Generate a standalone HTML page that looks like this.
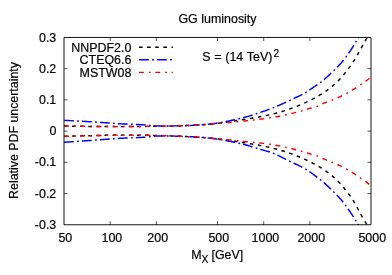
<!DOCTYPE html>
<html><head><meta charset="utf-8"><title>GG luminosity</title>
<style>html,body{margin:0;padding:0;background:#fff;}body{width:392px;height:275px;overflow:hidden;font-family:"Liberation Sans",sans-serif;}</style></head>
<body>
<svg width="392" height="275" viewBox="0 0 392 275" style="display:block;will-change:transform;font-family:'Liberation Sans',sans-serif;font-size:12.45px" stroke-linejoin="round">
<rect width="392" height="275" fill="#fff"/>
<style>text{stroke:#000;stroke-width:0.18px;fill:#000}</style>
<defs><clipPath id="c"><rect x="64.0" y="37.45" width="307.0" height="187.3"/></clipPath></defs>
<g clip-path="url(#c)">
<path d="M64.0,126.00 L65.0,126.02 L66.0,126.04 L67.0,126.07 L68.0,126.09 L69.0,126.11 L70.0,126.13 L71.0,126.15 L72.0,126.17 L73.0,126.19 L74.0,126.20 L75.0,126.22 L76.0,126.24 L77.0,126.26 L78.0,126.27 L79.0,126.29 L80.0,126.31 L81.0,126.32 L82.0,126.34 L83.0,126.35 L84.0,126.36 L85.0,126.38 L86.0,126.39 L87.0,126.40 L88.0,126.41 L89.0,126.43 L90.0,126.44 L91.0,126.45 L92.0,126.46 L93.0,126.47 L94.0,126.48 L95.0,126.49 L96.0,126.50 L97.0,126.51 L98.0,126.51 L99.0,126.52 L100.0,126.53 L101.0,126.54 L102.0,126.54 L103.0,126.55 L104.0,126.56 L105.0,126.56 L106.0,126.57 L107.0,126.57 L108.0,126.58 L109.0,126.58 L110.0,126.58 L111.0,126.59 L112.0,126.59 L113.0,126.59 L114.0,126.59 L115.0,126.60 L116.0,126.60 L117.0,126.60 L118.0,126.60 L119.0,126.60 L120.0,126.60 L121.0,126.60 L122.0,126.60 L123.0,126.60 L124.0,126.59 L125.0,126.59 L126.0,126.59 L127.0,126.58 L128.0,126.58 L129.0,126.57 L130.0,126.57 L131.0,126.56 L132.0,126.55 L133.0,126.54 L134.0,126.54 L135.0,126.53 L136.0,126.52 L137.0,126.51 L138.0,126.50 L139.0,126.49 L140.0,126.47 L141.0,126.46 L142.0,126.45 L143.0,126.44 L144.0,126.42 L145.0,126.41 L146.0,126.40 L147.0,126.38 L148.0,126.37 L149.0,126.36 L150.0,126.34 L151.0,126.33 L152.0,126.31 L153.0,126.30 L154.0,126.28 L155.0,126.26 L156.0,126.25 L157.0,126.23 L158.0,126.22 L159.0,126.20 L160.0,126.18 L161.0,126.17 L162.0,126.15 L163.0,126.13 L164.0,126.12 L165.0,126.10 L166.0,126.08 L167.0,126.06 L168.0,126.05 L169.0,126.03 L170.0,126.01 L171.0,125.99 L172.0,125.96 L173.0,125.94 L174.0,125.92 L175.0,125.89 L176.0,125.87 L177.0,125.84 L178.0,125.81 L179.0,125.78 L180.0,125.75 L181.0,125.72 L182.0,125.69 L183.0,125.66 L184.0,125.63 L185.0,125.59 L186.0,125.56 L187.0,125.52 L188.0,125.49 L189.0,125.45 L190.0,125.41 L191.0,125.37 L192.0,125.33 L193.0,125.29 L194.0,125.24 L195.0,125.20 L196.0,125.15 L197.0,125.10 L198.0,125.04 L199.0,124.98 L200.0,124.92 L201.0,124.85 L202.0,124.78 L203.0,124.70 L204.0,124.62 L205.0,124.54 L206.0,124.46 L207.0,124.37 L208.0,124.28 L209.0,124.19 L210.0,124.10 L211.0,124.01 L212.0,123.91 L213.0,123.81 L214.0,123.70 L215.0,123.59 L216.0,123.48 L217.0,123.36 L218.0,123.24 L219.0,123.12 L220.0,123.00 L221.0,122.87 L222.0,122.74 L223.0,122.60 L224.0,122.47 L225.0,122.33 L226.0,122.19 L227.0,122.05 L228.0,121.91 L229.0,121.76 L230.0,121.61 L231.0,121.47 L232.0,121.32 L233.0,121.17 L234.0,121.02 L235.0,120.86 L236.0,120.71 L237.0,120.56 L238.0,120.41 L239.0,120.25 L240.0,120.10 L241.0,119.95 L242.0,119.79 L243.0,119.64 L244.0,119.48 L245.0,119.32 L246.0,119.16 L247.0,119.00 L248.0,118.84 L249.0,118.68 L250.0,118.51 L251.0,118.34 L252.0,118.18 L253.0,118.00 L254.0,117.83 L255.0,117.66 L256.0,117.48 L257.0,117.30 L258.0,117.12 L259.0,116.93 L260.0,116.74 L261.0,116.55 L262.0,116.36 L263.0,116.16 L264.0,115.97 L265.0,115.76 L266.0,115.56 L267.0,115.35 L268.0,115.14 L269.0,114.92 L270.0,114.70 L271.0,114.47 L272.0,114.24 L273.0,114.00 L274.0,113.75 L275.0,113.49 L276.0,113.22 L277.0,112.95 L278.0,112.67 L279.0,112.39 L280.0,112.10 L281.0,111.81 L282.0,111.51 L283.0,111.20 L284.0,110.89 L285.0,110.57 L286.0,110.25 L287.0,109.91 L288.0,109.57 L289.0,109.23 L290.0,108.88 L291.0,108.52 L292.0,108.15 L293.0,107.78 L294.0,107.40 L295.0,107.02 L296.0,106.63 L297.0,106.24 L298.0,105.84 L299.0,105.43 L300.0,105.02 L301.0,104.60 L302.0,104.17 L303.0,103.74 L304.0,103.29 L305.0,102.84 L306.0,102.38 L307.0,101.92 L308.0,101.44 L309.0,100.95 L310.0,100.46 L311.0,99.96 L312.0,99.45 L313.0,98.92 L314.0,98.39 L315.0,97.85 L316.0,97.31 L317.0,96.75 L318.0,96.17 L319.0,95.59 L320.0,94.99 L321.0,94.38 L322.0,93.76 L323.0,93.12 L324.0,92.46 L325.0,91.79 L326.0,91.09 L327.0,90.38 L328.0,89.65 L329.0,88.90 L330.0,88.12 L331.0,87.32 L332.0,86.50 L333.0,85.65 L334.0,84.78 L335.0,83.88 L336.0,82.95 L337.0,82.00 L338.0,81.03 L339.0,80.03 L340.0,79.00 L341.0,77.92 L342.0,76.76 L343.0,75.54 L344.0,74.29 L345.0,73.02 L346.0,71.74 L347.0,70.47 L348.0,69.20 L349.0,67.92 L350.0,66.60 L351.0,65.22 L352.0,63.76 L353.0,62.22 L354.0,60.62 L355.0,58.97 L356.0,57.27 L357.0,55.53 L358.0,53.77 L359.0,51.98 L360.0,50.18 L361.0,48.39 L362.0,46.60 L363.0,44.82 L364.0,43.07 L365.0,41.35 L366.0,39.64 L367.0,37.86 L368.0,36.01 L369.0,34.10 L370.0,32.13 L371.0,30.10" fill="none" stroke="#000" stroke-width="1.45" stroke-dasharray="3.6,4.5" stroke-dashoffset="0"/>
<path d="M64.0,136.30 L65.0,136.28 L66.0,136.25 L67.0,136.23 L68.0,136.20 L69.0,136.18 L70.0,136.15 L71.0,136.13 L72.0,136.11 L73.0,136.08 L74.0,136.06 L75.0,136.04 L76.0,136.01 L77.0,135.99 L78.0,135.97 L79.0,135.94 L80.0,135.92 L81.0,135.90 L82.0,135.88 L83.0,135.85 L84.0,135.83 L85.0,135.81 L86.0,135.79 L87.0,135.77 L88.0,135.74 L89.0,135.72 L90.0,135.70 L91.0,135.68 L92.0,135.65 L93.0,135.63 L94.0,135.61 L95.0,135.58 L96.0,135.56 L97.0,135.53 L98.0,135.50 L99.0,135.48 L100.0,135.45 L101.0,135.42 L102.0,135.40 L103.0,135.37 L104.0,135.34 L105.0,135.32 L106.0,135.30 L107.0,135.27 L108.0,135.25 L109.0,135.23 L110.0,135.21 L111.0,135.19 L112.0,135.17 L113.0,135.16 L114.0,135.14 L115.0,135.13 L116.0,135.12 L117.0,135.11 L118.0,135.10 L119.0,135.10 L120.0,135.10 L121.0,135.10 L122.0,135.10 L123.0,135.10 L124.0,135.10 L125.0,135.11 L126.0,135.11 L127.0,135.11 L128.0,135.12 L129.0,135.12 L130.0,135.13 L131.0,135.13 L132.0,135.14 L133.0,135.14 L134.0,135.15 L135.0,135.16 L136.0,135.16 L137.0,135.17 L138.0,135.18 L139.0,135.19 L140.0,135.20 L141.0,135.21 L142.0,135.22 L143.0,135.23 L144.0,135.24 L145.0,135.25 L146.0,135.26 L147.0,135.27 L148.0,135.28 L149.0,135.29 L150.0,135.30 L151.0,135.31 L152.0,135.33 L153.0,135.35 L154.0,135.37 L155.0,135.39 L156.0,135.42 L157.0,135.45 L158.0,135.48 L159.0,135.51 L160.0,135.54 L161.0,135.57 L162.0,135.60 L163.0,135.64 L164.0,135.67 L165.0,135.70 L166.0,135.73 L167.0,135.77 L168.0,135.80 L169.0,135.84 L170.0,135.88 L171.0,135.92 L172.0,135.96 L173.0,136.00 L174.0,136.04 L175.0,136.08 L176.0,136.13 L177.0,136.17 L178.0,136.21 L179.0,136.26 L180.0,136.30 L181.0,136.34 L182.0,136.39 L183.0,136.43 L184.0,136.47 L185.0,136.51 L186.0,136.56 L187.0,136.60 L188.0,136.65 L189.0,136.69 L190.0,136.74 L191.0,136.79 L192.0,136.84 L193.0,136.89 L194.0,136.94 L195.0,137.00 L196.0,137.06 L197.0,137.12 L198.0,137.18 L199.0,137.24 L200.0,137.31 L201.0,137.38 L202.0,137.45 L203.0,137.52 L204.0,137.60 L205.0,137.67 L206.0,137.75 L207.0,137.84 L208.0,137.92 L209.0,138.01 L210.0,138.10 L211.0,138.19 L212.0,138.29 L213.0,138.39 L214.0,138.50 L215.0,138.61 L216.0,138.72 L217.0,138.84 L218.0,138.96 L219.0,139.08 L220.0,139.20 L221.0,139.33 L222.0,139.46 L223.0,139.60 L224.0,139.73 L225.0,139.87 L226.0,140.01 L227.0,140.15 L228.0,140.29 L229.0,140.44 L230.0,140.59 L231.0,140.73 L232.0,140.88 L233.0,141.03 L234.0,141.18 L235.0,141.34 L236.0,141.49 L237.0,141.64 L238.0,141.79 L239.0,141.95 L240.0,142.10 L241.0,142.25 L242.0,142.41 L243.0,142.56 L244.0,142.72 L245.0,142.88 L246.0,143.04 L247.0,143.20 L248.0,143.36 L249.0,143.52 L250.0,143.69 L251.0,143.86 L252.0,144.02 L253.0,144.20 L254.0,144.37 L255.0,144.54 L256.0,144.72 L257.0,144.90 L258.0,145.08 L259.0,145.27 L260.0,145.46 L261.0,145.65 L262.0,145.84 L263.0,146.04 L264.0,146.23 L265.0,146.44 L266.0,146.64 L267.0,146.85 L268.0,147.06 L269.0,147.28 L270.0,147.50 L271.0,147.73 L272.0,147.96 L273.0,148.20 L274.0,148.45 L275.0,148.71 L276.0,148.98 L277.0,149.25 L278.0,149.53 L279.0,149.81 L280.0,150.10 L281.0,150.39 L282.0,150.69 L283.0,151.00 L284.0,151.31 L285.0,151.63 L286.0,151.95 L287.0,152.29 L288.0,152.63 L289.0,152.97 L290.0,153.32 L291.0,153.68 L292.0,154.05 L293.0,154.42 L294.0,154.80 L295.0,155.18 L296.0,155.57 L297.0,155.96 L298.0,156.36 L299.0,156.77 L300.0,157.18 L301.0,157.60 L302.0,158.03 L303.0,158.46 L304.0,158.91 L305.0,159.36 L306.0,159.82 L307.0,160.28 L308.0,160.76 L309.0,161.25 L310.0,161.74 L311.0,162.24 L312.0,162.75 L313.0,163.28 L314.0,163.81 L315.0,164.35 L316.0,164.89 L317.0,165.45 L318.0,166.02 L319.0,166.61 L320.0,167.20 L321.0,167.81 L322.0,168.44 L323.0,169.08 L324.0,169.73 L325.0,170.41 L326.0,171.10 L327.0,171.81 L328.0,172.55 L329.0,173.31 L330.0,174.09 L331.0,174.90 L332.0,175.73 L333.0,176.59 L334.0,177.47 L335.0,178.38 L336.0,179.31 L337.0,180.27 L338.0,181.25 L339.0,182.26 L340.0,183.29 L341.0,184.37 L342.0,185.51 L343.0,186.72 L344.0,187.97 L345.0,189.25 L346.0,190.54 L347.0,191.83 L348.0,193.11 L349.0,194.40 L350.0,195.72 L351.0,197.10 L352.0,198.55 L353.0,200.10 L354.0,201.76 L355.0,203.49 L356.0,205.29 L357.0,207.14 L358.0,209.02 L359.0,210.91 L360.0,212.80 L361.0,214.66 L362.0,216.49 L363.0,218.27 L364.0,219.97 L365.0,221.56 L366.0,223.16 L367.0,224.88 L368.0,226.75 L369.0,228.72 L370.0,230.80 L371.0,232.98" fill="none" stroke="#000" stroke-width="1.45" stroke-dasharray="3.6,4.5" stroke-dashoffset="0"/>

<path d="M64.0,120.30 L65.0,120.35 L66.0,120.40 L67.0,120.45 L68.0,120.50 L69.0,120.55 L70.0,120.60 L71.0,120.65 L72.0,120.70 L73.0,120.76 L74.0,120.81 L75.0,120.86 L76.0,120.92 L77.0,120.97 L78.0,121.03 L79.0,121.09 L80.0,121.14 L81.0,121.20 L82.0,121.26 L83.0,121.32 L84.0,121.38 L85.0,121.43 L86.0,121.49 L87.0,121.55 L88.0,121.62 L89.0,121.68 L90.0,121.74 L91.0,121.80 L92.0,121.86 L93.0,121.92 L94.0,121.99 L95.0,122.05 L96.0,122.11 L97.0,122.18 L98.0,122.24 L99.0,122.31 L100.0,122.37 L101.0,122.44 L102.0,122.50 L103.0,122.57 L104.0,122.63 L105.0,122.70 L106.0,122.77 L107.0,122.84 L108.0,122.92 L109.0,122.99 L110.0,123.07 L111.0,123.16 L112.0,123.24 L113.0,123.32 L114.0,123.40 L115.0,123.47 L116.0,123.55 L117.0,123.62 L118.0,123.68 L119.0,123.75 L120.0,123.80 L121.0,123.85 L122.0,123.90 L123.0,123.94 L124.0,123.98 L125.0,124.02 L126.0,124.06 L127.0,124.09 L128.0,124.13 L129.0,124.17 L130.0,124.20 L131.0,124.24 L132.0,124.28 L133.0,124.32 L134.0,124.36 L135.0,124.40 L136.0,124.44 L137.0,124.49 L138.0,124.53 L139.0,124.58 L140.0,124.63 L141.0,124.68 L142.0,124.74 L143.0,124.80 L144.0,124.87 L145.0,124.95 L146.0,125.04 L147.0,125.13 L148.0,125.23 L149.0,125.32 L150.0,125.40 L151.0,125.48 L152.0,125.57 L153.0,125.66 L154.0,125.74 L155.0,125.81 L156.0,125.87 L157.0,125.90 L158.0,125.92 L159.0,125.94 L160.0,125.96 L161.0,125.97 L162.0,125.98 L163.0,125.99 L164.0,126.00 L165.0,126.00 L166.0,126.00 L167.0,125.99 L168.0,125.99 L169.0,125.98 L170.0,125.97 L171.0,125.96 L172.0,125.94 L173.0,125.93 L174.0,125.91 L175.0,125.90 L176.0,125.88 L177.0,125.86 L178.0,125.84 L179.0,125.82 L180.0,125.80 L181.0,125.78 L182.0,125.75 L183.0,125.72 L184.0,125.69 L185.0,125.66 L186.0,125.62 L187.0,125.58 L188.0,125.54 L189.0,125.50 L190.0,125.45 L191.0,125.40 L192.0,125.36 L193.0,125.30 L194.0,125.25 L195.0,125.20 L196.0,125.14 L197.0,125.09 L198.0,125.02 L199.0,124.96 L200.0,124.89 L201.0,124.82 L202.0,124.74 L203.0,124.66 L204.0,124.58 L205.0,124.49 L206.0,124.40 L207.0,124.30 L208.0,124.21 L209.0,124.10 L210.0,124.00 L211.0,123.89 L212.0,123.77 L213.0,123.65 L214.0,123.52 L215.0,123.38 L216.0,123.24 L217.0,123.09 L218.0,122.94 L219.0,122.78 L220.0,122.61 L221.0,122.44 L222.0,122.27 L223.0,122.09 L224.0,121.91 L225.0,121.72 L226.0,121.52 L227.0,121.33 L228.0,121.13 L229.0,120.92 L230.0,120.72 L231.0,120.51 L232.0,120.29 L233.0,120.08 L234.0,119.86 L235.0,119.64 L236.0,119.41 L237.0,119.19 L238.0,118.96 L239.0,118.73 L240.0,118.50 L241.0,118.26 L242.0,118.02 L243.0,117.76 L244.0,117.50 L245.0,117.23 L246.0,116.95 L247.0,116.67 L248.0,116.38 L249.0,116.08 L250.0,115.78 L251.0,115.47 L252.0,115.15 L253.0,114.83 L254.0,114.51 L255.0,114.19 L256.0,113.86 L257.0,113.52 L258.0,113.19 L259.0,112.85 L260.0,112.52 L261.0,112.18 L262.0,111.84 L263.0,111.50 L264.0,111.16 L265.0,110.81 L266.0,110.46 L267.0,110.10 L268.0,109.73 L269.0,109.36 L270.0,108.98 L271.0,108.60 L272.0,108.22 L273.0,107.82 L274.0,107.43 L275.0,107.02 L276.0,106.61 L277.0,106.20 L278.0,105.77 L279.0,105.34 L280.0,104.90 L281.0,104.46 L282.0,104.01 L283.0,103.55 L284.0,103.09 L285.0,102.63 L286.0,102.17 L287.0,101.70 L288.0,101.23 L289.0,100.76 L290.0,100.28 L291.0,99.81 L292.0,99.34 L293.0,98.88 L294.0,98.41 L295.0,97.95 L296.0,97.48 L297.0,97.01 L298.0,96.53 L299.0,96.05 L300.0,95.56 L301.0,95.05 L302.0,94.54 L303.0,94.02 L304.0,93.47 L305.0,92.92 L306.0,92.34 L307.0,91.73 L308.0,91.09 L309.0,90.41 L310.0,89.71 L311.0,89.01 L312.0,88.30 L313.0,87.59 L314.0,86.90 L315.0,86.23 L316.0,85.56 L317.0,84.90 L318.0,84.22 L319.0,83.53 L320.0,82.80 L321.0,82.04 L322.0,81.25 L323.0,80.43 L324.0,79.60 L325.0,78.74 L326.0,77.88 L327.0,76.99 L328.0,76.08 L329.0,75.15 L330.0,74.20 L331.0,73.24 L332.0,72.27 L333.0,71.29 L334.0,70.31 L335.0,69.33 L336.0,68.36 L337.0,67.38 L338.0,66.37 L339.0,65.35 L340.0,64.29 L341.0,63.19 L342.0,62.03 L343.0,60.83 L344.0,59.58 L345.0,58.29 L346.0,56.96 L347.0,55.59 L348.0,54.19 L349.0,52.76 L350.0,51.30 L351.0,49.80 L352.0,48.24 L353.0,46.63 L354.0,44.99 L355.0,43.31 L356.0,41.62 L357.0,39.90 L358.0,38.19 L359.0,36.46 L360.0,34.70 L361.0,32.91 L362.0,31.10 L363.0,29.28 L364.0,27.45 L365.0,25.64 L366.0,23.84 L367.0,22.07 L368.0,20.34 L369.0,18.65 L370.0,17.02 L371.0,15.45" fill="none" stroke="#0000ff" stroke-width="1.45" stroke-dasharray="9.8,3.3,1.8,3.1" stroke-dashoffset="0"/>
<path d="M64.0,142.30 L65.0,142.23 L66.0,142.16 L67.0,142.09 L68.0,142.02 L69.0,141.95 L70.0,141.89 L71.0,141.82 L72.0,141.75 L73.0,141.68 L74.0,141.61 L75.0,141.54 L76.0,141.47 L77.0,141.40 L78.0,141.33 L79.0,141.26 L80.0,141.19 L81.0,141.11 L82.0,141.04 L83.0,140.97 L84.0,140.90 L85.0,140.83 L86.0,140.76 L87.0,140.69 L88.0,140.62 L89.0,140.55 L90.0,140.48 L91.0,140.41 L92.0,140.33 L93.0,140.26 L94.0,140.19 L95.0,140.12 L96.0,140.05 L97.0,139.98 L98.0,139.90 L99.0,139.83 L100.0,139.76 L101.0,139.69 L102.0,139.62 L103.0,139.54 L104.0,139.47 L105.0,139.40 L106.0,139.33 L107.0,139.25 L108.0,139.17 L109.0,139.09 L110.0,139.01 L111.0,138.93 L112.0,138.85 L113.0,138.77 L114.0,138.70 L115.0,138.62 L116.0,138.55 L117.0,138.48 L118.0,138.41 L119.0,138.35 L120.0,138.30 L121.0,138.25 L122.0,138.20 L123.0,138.16 L124.0,138.12 L125.0,138.08 L126.0,138.04 L127.0,138.01 L128.0,137.97 L129.0,137.93 L130.0,137.90 L131.0,137.86 L132.0,137.82 L133.0,137.78 L134.0,137.74 L135.0,137.70 L136.0,137.66 L137.0,137.61 L138.0,137.57 L139.0,137.52 L140.0,137.47 L141.0,137.42 L142.0,137.36 L143.0,137.30 L144.0,137.23 L145.0,137.15 L146.0,137.07 L147.0,136.98 L148.0,136.89 L149.0,136.79 L150.0,136.70 L151.0,136.60 L152.0,136.48 L153.0,136.35 L154.0,136.23 L155.0,136.12 L156.0,136.04 L157.0,136.00 L158.0,135.98 L159.0,135.96 L160.0,135.94 L161.0,135.93 L162.0,135.92 L163.0,135.91 L164.0,135.90 L165.0,135.90 L166.0,135.90 L167.0,135.91 L168.0,135.93 L169.0,135.94 L170.0,135.97 L171.0,135.99 L172.0,136.02 L173.0,136.05 L174.0,136.09 L175.0,136.12 L176.0,136.16 L177.0,136.19 L178.0,136.23 L179.0,136.27 L180.0,136.30 L181.0,136.33 L182.0,136.37 L183.0,136.41 L184.0,136.45 L185.0,136.49 L186.0,136.53 L187.0,136.58 L188.0,136.63 L189.0,136.68 L190.0,136.73 L191.0,136.78 L192.0,136.83 L193.0,136.89 L194.0,136.94 L195.0,137.00 L196.0,137.06 L197.0,137.12 L198.0,137.19 L199.0,137.25 L200.0,137.32 L201.0,137.40 L202.0,137.47 L203.0,137.55 L204.0,137.63 L205.0,137.72 L206.0,137.81 L207.0,137.90 L208.0,138.00 L209.0,138.10 L210.0,138.20 L211.0,138.31 L212.0,138.42 L213.0,138.55 L214.0,138.67 L215.0,138.81 L216.0,138.94 L217.0,139.09 L218.0,139.24 L219.0,139.39 L220.0,139.55 L221.0,139.72 L222.0,139.89 L223.0,140.06 L224.0,140.24 L225.0,140.42 L226.0,140.60 L227.0,140.79 L228.0,140.98 L229.0,141.18 L230.0,141.38 L231.0,141.58 L232.0,141.78 L233.0,141.99 L234.0,142.20 L235.0,142.41 L236.0,142.63 L237.0,142.84 L238.0,143.06 L239.0,143.28 L240.0,143.50 L241.0,143.73 L242.0,143.96 L243.0,144.21 L244.0,144.47 L245.0,144.73 L246.0,145.01 L247.0,145.29 L248.0,145.57 L249.0,145.86 L250.0,146.16 L251.0,146.46 L252.0,146.76 L253.0,147.07 L254.0,147.38 L255.0,147.69 L256.0,148.00 L257.0,148.30 L258.0,148.61 L259.0,148.92 L260.0,149.22 L261.0,149.52 L262.0,149.81 L263.0,150.10 L264.0,150.38 L265.0,150.65 L266.0,150.92 L267.0,151.19 L268.0,151.47 L269.0,151.77 L270.0,152.10 L271.0,152.45 L272.0,152.83 L273.0,153.22 L274.0,153.63 L275.0,154.06 L276.0,154.50 L277.0,154.96 L278.0,155.42 L279.0,155.90 L280.0,156.39 L281.0,156.88 L282.0,157.38 L283.0,157.89 L284.0,158.40 L285.0,158.91 L286.0,159.41 L287.0,159.92 L288.0,160.42 L289.0,160.92 L290.0,161.41 L291.0,161.89 L292.0,162.37 L293.0,162.84 L294.0,163.30 L295.0,163.77 L296.0,164.24 L297.0,164.70 L298.0,165.18 L299.0,165.66 L300.0,166.14 L301.0,166.64 L302.0,167.15 L303.0,167.68 L304.0,168.22 L305.0,168.78 L306.0,169.36 L307.0,169.97 L308.0,170.62 L309.0,171.30 L310.0,172.00 L311.0,172.72 L312.0,173.45 L313.0,174.17 L314.0,174.90 L315.0,175.62 L316.0,176.35 L317.0,177.09 L318.0,177.84 L319.0,178.61 L320.0,179.40 L321.0,180.21 L322.0,181.04 L323.0,181.88 L324.0,182.75 L325.0,183.63 L326.0,184.52 L327.0,185.43 L328.0,186.35 L329.0,187.29 L330.0,188.25 L331.0,189.22 L332.0,190.20 L333.0,191.20 L334.0,192.20 L335.0,193.21 L336.0,194.22 L337.0,195.24 L338.0,196.29 L339.0,197.35 L340.0,198.45 L341.0,199.59 L342.0,200.78 L343.0,202.02 L344.0,203.30 L345.0,204.63 L346.0,206.00 L347.0,207.39 L348.0,208.81 L349.0,210.25 L350.0,211.70 L351.0,213.17 L352.0,214.68 L353.0,216.22 L354.0,217.78 L355.0,219.36 L356.0,220.97 L357.0,222.60 L358.0,224.24 L359.0,225.90 L360.0,227.60 L361.0,229.34 L362.0,231.10 L363.0,232.87 L364.0,234.64 L365.0,236.41 L366.0,238.15 L367.0,239.86 L368.0,241.53 L369.0,243.15 L370.0,244.70 L371.0,246.17" fill="none" stroke="#0000ff" stroke-width="1.45" stroke-dasharray="9.8,3.3,1.8,3.1" stroke-dashoffset="0"/>

<path d="M64.0,125.90 L65.0,125.93 L66.0,125.95 L67.0,125.97 L68.0,126.00 L69.0,126.02 L70.0,126.04 L71.0,126.07 L72.0,126.09 L73.0,126.11 L74.0,126.13 L75.0,126.15 L76.0,126.17 L77.0,126.19 L78.0,126.21 L79.0,126.23 L80.0,126.25 L81.0,126.27 L82.0,126.28 L83.0,126.30 L84.0,126.32 L85.0,126.33 L86.0,126.35 L87.0,126.36 L88.0,126.38 L89.0,126.39 L90.0,126.40 L91.0,126.42 L92.0,126.43 L93.0,126.44 L94.0,126.45 L95.0,126.46 L96.0,126.47 L97.0,126.49 L98.0,126.50 L99.0,126.50 L100.0,126.51 L101.0,126.52 L102.0,126.53 L103.0,126.54 L104.0,126.54 L105.0,126.55 L106.0,126.56 L107.0,126.56 L108.0,126.57 L109.0,126.57 L110.0,126.58 L111.0,126.58 L112.0,126.59 L113.0,126.59 L114.0,126.59 L115.0,126.59 L116.0,126.60 L117.0,126.60 L118.0,126.60 L119.0,126.60 L120.0,126.60 L121.0,126.60 L122.0,126.60 L123.0,126.60 L124.0,126.59 L125.0,126.59 L126.0,126.59 L127.0,126.58 L128.0,126.58 L129.0,126.57 L130.0,126.57 L131.0,126.56 L132.0,126.55 L133.0,126.54 L134.0,126.54 L135.0,126.53 L136.0,126.52 L137.0,126.51 L138.0,126.50 L139.0,126.49 L140.0,126.47 L141.0,126.46 L142.0,126.45 L143.0,126.44 L144.0,126.42 L145.0,126.41 L146.0,126.40 L147.0,126.38 L148.0,126.37 L149.0,126.36 L150.0,126.34 L151.0,126.33 L152.0,126.31 L153.0,126.30 L154.0,126.28 L155.0,126.26 L156.0,126.25 L157.0,126.23 L158.0,126.22 L159.0,126.20 L160.0,126.18 L161.0,126.17 L162.0,126.15 L163.0,126.13 L164.0,126.12 L165.0,126.10 L166.0,126.08 L167.0,126.06 L168.0,126.05 L169.0,126.03 L170.0,126.01 L171.0,125.99 L172.0,125.96 L173.0,125.94 L174.0,125.92 L175.0,125.89 L176.0,125.87 L177.0,125.84 L178.0,125.81 L179.0,125.78 L180.0,125.75 L181.0,125.72 L182.0,125.69 L183.0,125.66 L184.0,125.63 L185.0,125.59 L186.0,125.56 L187.0,125.52 L188.0,125.49 L189.0,125.45 L190.0,125.41 L191.0,125.37 L192.0,125.33 L193.0,125.29 L194.0,125.24 L195.0,125.20 L196.0,125.15 L197.0,125.10 L198.0,125.04 L199.0,124.97 L200.0,124.90 L201.0,124.83 L202.0,124.76 L203.0,124.68 L204.0,124.60 L205.0,124.51 L206.0,124.43 L207.0,124.35 L208.0,124.26 L209.0,124.18 L210.0,124.10 L211.0,124.02 L212.0,123.94 L213.0,123.86 L214.0,123.78 L215.0,123.69 L216.0,123.61 L217.0,123.53 L218.0,123.44 L219.0,123.36 L220.0,123.27 L221.0,123.18 L222.0,123.10 L223.0,123.01 L224.0,122.92 L225.0,122.83 L226.0,122.74 L227.0,122.65 L228.0,122.56 L229.0,122.47 L230.0,122.37 L231.0,122.28 L232.0,122.19 L233.0,122.09 L234.0,121.99 L235.0,121.90 L236.0,121.80 L237.0,121.70 L238.0,121.60 L239.0,121.50 L240.0,121.40 L241.0,121.30 L242.0,121.20 L243.0,121.10 L244.0,121.00 L245.0,120.89 L246.0,120.79 L247.0,120.69 L248.0,120.59 L249.0,120.48 L250.0,120.38 L251.0,120.27 L252.0,120.17 L253.0,120.06 L254.0,119.95 L255.0,119.84 L256.0,119.73 L257.0,119.61 L258.0,119.50 L259.0,119.38 L260.0,119.26 L261.0,119.14 L262.0,119.01 L263.0,118.88 L264.0,118.75 L265.0,118.62 L266.0,118.48 L267.0,118.34 L268.0,118.20 L269.0,118.05 L270.0,117.90 L271.0,117.74 L272.0,117.58 L273.0,117.42 L274.0,117.24 L275.0,117.07 L276.0,116.88 L277.0,116.70 L278.0,116.50 L279.0,116.31 L280.0,116.10 L281.0,115.90 L282.0,115.69 L283.0,115.47 L284.0,115.25 L285.0,115.03 L286.0,114.81 L287.0,114.58 L288.0,114.34 L289.0,114.11 L290.0,113.87 L291.0,113.62 L292.0,113.38 L293.0,113.13 L294.0,112.88 L295.0,112.63 L296.0,112.38 L297.0,112.12 L298.0,111.86 L299.0,111.60 L300.0,111.34 L301.0,111.08 L302.0,110.81 L303.0,110.53 L304.0,110.23 L305.0,109.93 L306.0,109.61 L307.0,109.29 L308.0,108.98 L309.0,108.66 L310.0,108.35 L311.0,108.05 L312.0,107.77 L313.0,107.50 L314.0,107.23 L315.0,106.96 L316.0,106.67 L317.0,106.37 L318.0,106.03 L319.0,105.66 L320.0,105.20 L321.0,104.66 L322.0,104.11 L323.0,103.59 L324.0,103.14 L325.0,102.72 L326.0,102.32 L327.0,101.93 L328.0,101.55 L329.0,101.18 L330.0,100.82 L331.0,100.45 L332.0,100.09 L333.0,99.72 L334.0,99.34 L335.0,98.94 L336.0,98.53 L337.0,98.10 L338.0,97.65 L339.0,97.19 L340.0,96.72 L341.0,96.24 L342.0,95.75 L343.0,95.26 L344.0,94.75 L345.0,94.23 L346.0,93.70 L347.0,93.16 L348.0,92.62 L349.0,92.06 L350.0,91.50 L351.0,90.93 L352.0,90.34 L353.0,89.73 L354.0,89.10 L355.0,88.46 L356.0,87.81 L357.0,87.15 L358.0,86.48 L359.0,85.80 L360.0,85.12 L361.0,84.44 L362.0,83.76 L363.0,83.07 L364.0,82.37 L365.0,81.67 L366.0,80.96 L367.0,80.24 L368.0,79.51 L369.0,78.78 L370.0,78.04 L371.0,77.30" fill="none" stroke="#ff0000" stroke-width="1.45" stroke-dasharray="4.9,4.9,1.8,4.7" stroke-dashoffset="0"/>
<path d="M64.0,136.40 L65.0,136.37 L66.0,136.34 L67.0,136.31 L68.0,136.28 L69.0,136.25 L70.0,136.22 L71.0,136.19 L72.0,136.17 L73.0,136.14 L74.0,136.11 L75.0,136.08 L76.0,136.05 L77.0,136.03 L78.0,136.00 L79.0,135.97 L80.0,135.95 L81.0,135.92 L82.0,135.89 L83.0,135.87 L84.0,135.84 L85.0,135.82 L86.0,135.79 L87.0,135.77 L88.0,135.75 L89.0,135.72 L90.0,135.70 L91.0,135.68 L92.0,135.65 L93.0,135.63 L94.0,135.60 L95.0,135.58 L96.0,135.55 L97.0,135.52 L98.0,135.50 L99.0,135.47 L100.0,135.44 L101.0,135.42 L102.0,135.39 L103.0,135.36 L104.0,135.34 L105.0,135.31 L106.0,135.29 L107.0,135.27 L108.0,135.24 L109.0,135.22 L110.0,135.20 L111.0,135.19 L112.0,135.17 L113.0,135.15 L114.0,135.14 L115.0,135.13 L116.0,135.12 L117.0,135.11 L118.0,135.10 L119.0,135.10 L120.0,135.10 L121.0,135.10 L122.0,135.10 L123.0,135.10 L124.0,135.10 L125.0,135.11 L126.0,135.11 L127.0,135.11 L128.0,135.12 L129.0,135.12 L130.0,135.13 L131.0,135.13 L132.0,135.14 L133.0,135.14 L134.0,135.15 L135.0,135.16 L136.0,135.16 L137.0,135.17 L138.0,135.18 L139.0,135.19 L140.0,135.20 L141.0,135.21 L142.0,135.22 L143.0,135.23 L144.0,135.24 L145.0,135.25 L146.0,135.26 L147.0,135.27 L148.0,135.28 L149.0,135.29 L150.0,135.30 L151.0,135.31 L152.0,135.33 L153.0,135.35 L154.0,135.37 L155.0,135.39 L156.0,135.42 L157.0,135.45 L158.0,135.48 L159.0,135.51 L160.0,135.54 L161.0,135.57 L162.0,135.60 L163.0,135.64 L164.0,135.67 L165.0,135.70 L166.0,135.73 L167.0,135.77 L168.0,135.80 L169.0,135.84 L170.0,135.88 L171.0,135.92 L172.0,135.96 L173.0,136.00 L174.0,136.04 L175.0,136.08 L176.0,136.13 L177.0,136.17 L178.0,136.21 L179.0,136.26 L180.0,136.30 L181.0,136.34 L182.0,136.39 L183.0,136.43 L184.0,136.47 L185.0,136.51 L186.0,136.56 L187.0,136.60 L188.0,136.65 L189.0,136.69 L190.0,136.74 L191.0,136.79 L192.0,136.84 L193.0,136.89 L194.0,136.94 L195.0,137.00 L196.0,137.06 L197.0,137.12 L198.0,137.18 L199.0,137.25 L200.0,137.32 L201.0,137.39 L202.0,137.47 L203.0,137.54 L204.0,137.62 L205.0,137.70 L206.0,137.77 L207.0,137.86 L208.0,137.94 L209.0,138.02 L210.0,138.10 L211.0,138.18 L212.0,138.27 L213.0,138.35 L214.0,138.44 L215.0,138.53 L216.0,138.62 L217.0,138.71 L218.0,138.80 L219.0,138.89 L220.0,138.99 L221.0,139.08 L222.0,139.18 L223.0,139.28 L224.0,139.37 L225.0,139.47 L226.0,139.57 L227.0,139.67 L228.0,139.77 L229.0,139.87 L230.0,139.97 L231.0,140.08 L232.0,140.18 L233.0,140.28 L234.0,140.38 L235.0,140.48 L236.0,140.59 L237.0,140.69 L238.0,140.79 L239.0,140.90 L240.0,141.00 L241.0,141.10 L242.0,141.20 L243.0,141.30 L244.0,141.40 L245.0,141.50 L246.0,141.60 L247.0,141.70 L248.0,141.79 L249.0,141.89 L250.0,141.99 L251.0,142.09 L252.0,142.18 L253.0,142.28 L254.0,142.38 L255.0,142.49 L256.0,142.59 L257.0,142.70 L258.0,142.80 L259.0,142.91 L260.0,143.02 L261.0,143.14 L262.0,143.25 L263.0,143.37 L264.0,143.49 L265.0,143.62 L266.0,143.75 L267.0,143.88 L268.0,144.02 L269.0,144.16 L270.0,144.30 L271.0,144.45 L272.0,144.61 L273.0,144.77 L274.0,144.94 L275.0,145.11 L276.0,145.29 L277.0,145.48 L278.0,145.67 L279.0,145.87 L280.0,146.07 L281.0,146.27 L282.0,146.49 L283.0,146.70 L284.0,146.92 L285.0,147.14 L286.0,147.37 L287.0,147.60 L288.0,147.84 L289.0,148.08 L290.0,148.32 L291.0,148.56 L292.0,148.81 L293.0,149.06 L294.0,149.31 L295.0,149.56 L296.0,149.82 L297.0,150.08 L298.0,150.34 L299.0,150.60 L300.0,150.86 L301.0,151.12 L302.0,151.39 L303.0,151.67 L304.0,151.97 L305.0,152.27 L306.0,152.59 L307.0,152.91 L308.0,153.22 L309.0,153.54 L310.0,153.85 L311.0,154.15 L312.0,154.43 L313.0,154.70 L314.0,154.97 L315.0,155.24 L316.0,155.53 L317.0,155.83 L318.0,156.17 L319.0,156.54 L320.0,157.00 L321.0,157.53 L322.0,158.09 L323.0,158.61 L324.0,159.06 L325.0,159.50 L326.0,159.91 L327.0,160.31 L328.0,160.71 L329.0,161.09 L330.0,161.47 L331.0,161.85 L332.0,162.23 L333.0,162.62 L334.0,163.02 L335.0,163.43 L336.0,163.85 L337.0,164.30 L338.0,164.76 L339.0,165.24 L340.0,165.72 L341.0,166.21 L342.0,166.72 L343.0,167.23 L344.0,167.75 L345.0,168.28 L346.0,168.83 L347.0,169.38 L348.0,169.94 L349.0,170.51 L350.0,171.09 L351.0,171.68 L352.0,172.29 L353.0,172.91 L354.0,173.55 L355.0,174.21 L356.0,174.88 L357.0,175.56 L358.0,176.25 L359.0,176.95 L360.0,177.65 L361.0,178.35 L362.0,179.05 L363.0,179.76 L364.0,180.48 L365.0,181.20 L366.0,181.93 L367.0,182.67 L368.0,183.42 L369.0,184.17 L370.0,184.93 L371.0,185.70" fill="none" stroke="#ff0000" stroke-width="1.45" stroke-dasharray="4.9,4.9,1.8,4.7" stroke-dashoffset="0"/>

</g>
<rect x="64.0" y="37.45" width="307.0" height="187.3" fill="none" stroke="#000" stroke-width="0.92"/>
<text x="65.30" y="241.7" text-anchor="middle">50</text>
<text x="111.91" y="241.7" text-anchor="middle">100</text>
<text x="157.72" y="241.7" text-anchor="middle">200</text>
<text x="218.80" y="241.7" text-anchor="middle">500</text>
<text x="265.41" y="241.7" text-anchor="middle">1000</text>
<text x="311.22" y="241.7" text-anchor="middle">2000</text>
<text x="372.30" y="241.7" text-anchor="middle">5000</text>
<text x="56.3" y="41.55" text-anchor="end">0.3</text>
<text x="56.3" y="72.77" text-anchor="end">0.2</text>
<text x="56.3" y="103.98" text-anchor="end">0.1</text>
<text x="56.3" y="135.20" text-anchor="end">0</text>
<text x="56.3" y="166.42" text-anchor="end">-0.1</text>
<text x="56.3" y="197.63" text-anchor="end">-0.2</text>
<text x="56.3" y="228.85" text-anchor="end">-0.3</text>
<path d="M110.21,224.75v-3.6M110.21,37.45v3.6M156.42,224.75v-3.6M156.42,37.45v3.6M217.50,224.75v-3.6M217.50,37.45v3.6M263.71,224.75v-3.6M263.71,37.45v3.6M309.92,224.75v-3.6M309.92,37.45v3.6M64.0,68.67h3.6M371.0,68.67h-3.6M64.0,99.88h3.6M371.0,99.88h-3.6M64.0,131.10h3.6M371.0,131.10h-3.6M64.0,162.32h3.6M371.0,162.32h-3.6M64.0,193.53h3.6M371.0,193.53h-3.6" stroke="#000" stroke-width="0.65" fill="none"/>
<text x="217.5" y="23.0" text-anchor="middle">GG luminosity</text>
<text transform="translate(17.5,130.5) rotate(-90)" text-anchor="middle" font-size="12.38">Relative PDF uncertainty</text>
<text x="191.3" y="259">M<tspan dy="3.9" dx="-0.2" font-size="10.4">X</tspan><tspan dy="-3.9" dx="-0.4"> [GeV]</tspan></text>
<text x="202.2" y="61.3" word-spacing="0.3">S = (14 TeV)<tspan dx="1.2" dy="-4.8" font-size="10">2</tspan></text>
<text x="131.4" y="51.60" text-anchor="end">NNPDF2.0</text>
<path d="M139,47.20H172.8" stroke="#000" stroke-width="1.4" stroke-dasharray="3.6,4.5" fill="none"/>
<text x="131.4" y="64.20" text-anchor="end">CTEQ6.6</text>
<path d="M139,59.80H172.8" stroke="#0000ff" stroke-width="1.4" stroke-dasharray="9.8,3.3,1.8,3.1" fill="none"/>
<text x="131.4" y="76.80" text-anchor="end">MSTW08</text>
<path d="M139,72.40H172.8" stroke="#ff0000" stroke-width="1.4" stroke-dasharray="4.9,4.9,1.8,4.7" fill="none"/>
</svg>
</body></html>
